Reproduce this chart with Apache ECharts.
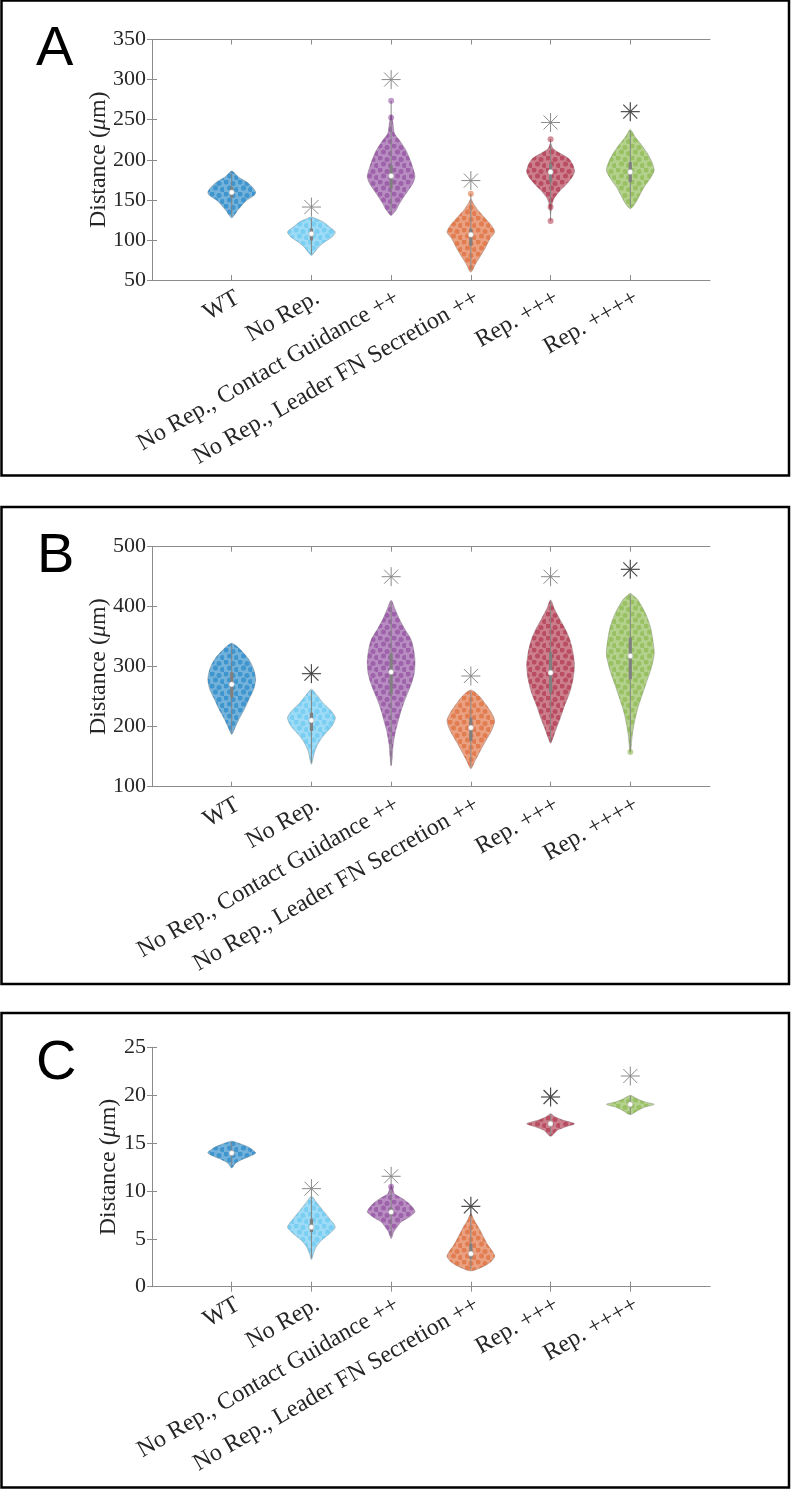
<!DOCTYPE html>
<html><head><meta charset="utf-8">
<script src="https://cdn.jsdelivr.net/npm/echarts@6/dist/echarts.min.js"></script>
<style>html,body{margin:0;padding:0;background:#fff}#c{width:791px;height:1490px}</style>
</head><body><div id="c"></div>
<script>
// ---------------- DATA ----------------
const categories = ['WT', 'No Rep.', 'No Rep., Contact Guidance ++', 'No Rep., Leader FN Secretion ++', 'Rep. +++', 'Rep. ++++'];
const positions = [1, 2, 3, 4, 5, 6];

// violin outlines: [value, relative half-width]
const violinA = [
  [[186,0],[178.6,0.28],[172.3,0.63],[166,0.86],[159.8,1],[155.6,0.94],[149.4,0.63],[143,0.42],[136.9,0.25],[127.7,0]],
  [[128.6,0],[126.5,0.2],[122.3,0.5],[116,0.76],[109.8,1],[103.6,0.86],[97.3,0.55],[91,0.3],[84.8,0.14],[80.7,0]],
  [[256,0],[245,0.08],[232.7,0.14],[224.4,0.35],[211.9,0.62],[199.4,0.8],[186.9,0.94],[178.6,1],[170.2,0.9],[157.7,0.62],[145.2,0.35],[136.9,0.2],[130.6,0]],
  [[151,0],[145.2,0.11],[136.9,0.3],[128.6,0.55],[118.1,0.86],[109.8,1],[101.5,0.8],[91,0.62],[80.7,0.42],[70.2,0.2],[61.9,0.07],[59.8,0]],
  [[221,0],[214,0.1],[207.7,0.42],[201.5,0.76],[193.1,0.94],[184.8,1],[176.5,0.86],[168.1,0.62],[159.8,0.35],[151.5,0.14],[145.2,0.07],[132.7,0]],
  [[237.7,0],[228.6,0.2],[218.1,0.48],[207.7,0.72],[197.3,0.9],[186.9,1],[176.5,0.83],[166,0.58],[155.6,0.39],[145.2,0.2],[139,0]]
];
const violinB = [
  [[339,0],[329,0.35],[312,0.72],[295.6,0.92],[279,1],[262.3,0.92],[245.6,0.72],[229,0.53],[212.3,0.3],[198.4,0.14],[187.3,0]],
  [[262.3,0],[254,0.2],[240,0.48],[226.2,0.83],[215,1],[201.2,0.86],[187.3,0.55],[173.4,0.3],[159.5,0.14],[145.6,0.06],[137.3,0]],
  [[410.6,0],[395.6,0.17],[379,0.35],[362.3,0.58],[345.6,0.83],[329,0.94],[309.5,1],[290,0.97],[273.4,0.86],[256.8,0.7],[240,0.53],[223.4,0.39],[206.8,0.28],[190,0.17],[167.9,0.08],[145.6,0.04],[134.5,0]],
  [[261.2,0],[251.2,0.35],[237.3,0.62],[223.4,0.86],[209.5,1],[192.9,0.86],[176.2,0.62],[159.5,0.39],[142.9,0.17],[130,0]],
  [[411.2,0],[395.6,0.17],[379,0.39],[362.3,0.62],[345.6,0.8],[323.4,0.94],[301.2,1],[279,0.94],[256.8,0.8],[234.5,0.58],[212.3,0.39],[192.9,0.2],[179,0.08],[172.3,0]],
  [[422.3,0],[418,0.14],[412.3,0.3],[390,0.62],[367.9,0.83],[345.6,0.94],[320.6,1],[295.6,0.86],[273.4,0.67],[251.2,0.48],[229,0.3],[206.8,0.17],[184.5,0.08],[155.6,0]]
];
const violinC = [
  [[15.2,0],[14.94,0.35],[14.59,0.7],[14.24,0.9],[13.96,1],[13.61,0.76],[13.27,0.42],[12.92,0.17],[12.4,0]],
  [[9.44,0],[8.85,0.2],[7.97,0.48],[7.1,0.76],[6.23,1],[5.54,0.76],[4.84,0.42],[4.15,0.2],[3.45,0.08],[2.82,0]],
  [[10.6,0],[10.2,0.07],[9.71,0.14],[9.19,0.48],[8.67,0.76],[8.15,0.94],[7.8,1],[7.28,0.76],[6.76,0.42],[6.23,0.25],[5.71,0.11],[5.02,0]],
  [[7.63,0],[6.93,0.14],[6.06,0.35],[5.19,0.53],[4.32,0.72],[3.62,0.92],[3.17,1],[2.58,0.83],[2.06,0.48],[1.64,0]],
  [[18.07,0],[17.72,0.2],[17.37,0.55],[17.02,1],[16.68,0.62],[16.33,0.28],[15.7,0]],
  [[19.98,0],[19.63,0.28],[19.29,0.62],[19.04,1],[18.7,0.55],[18.35,0.28],[17.96,0]]
];

// box statistics
const medianA = [159.4, 107.7, 179.8, 106.5, 184.8, 184.8];
const q1A     = [153, 99.4, 164, 93, 172, 172];
const q3A     = [166, 114, 193, 114, 195, 197];
const whiskLoA = [130, 82, 133, 62, 123.6, 141];
const whiskHiA = [184, 127, 273.6, 157.7, 225.6, 236];
const starA   = [null, 141, 300, 174, 246.5, 260];

const medianB = [270.6, 210.6, 291.2, 198.4, 290, 317.9];
const q1B     = [248.4, 193, 254, 176, 256.8, 279];
const q3B     = [291, 223.4, 322, 215, 324.5, 348.4];
const whiskLoB = [190, 140, 137, 132, 175, 158];
const whiskHiB = [337, 260, 408, 259, 410, 420];
const starB   = [null, 288.4, 450, 284.5, 450, 462.3];

const medianC = [13.96, 6.23, 7.8, 3.45, 17.02, 19.04];
const q1C     = [13.7, 5.71, 7.45, 2.93, 16.85, 18.9];
const q3C     = [14.2, 7.1, 8.2, 4.49, 17.2, 19.2];
const whiskLoC = [12.6, 3.0, 5.3, 1.8, 15.8, 18.0];
const whiskHiC = [15.1, 9.3, 10.4, 7.5, 18.0, 19.9];
const starC   = [null, 10.24, 11.53, 8.39, 19.81, 22.0];

// individual points visible outside the violins: [group position, value]
const outlierA = [[3, 273.6], [3, 252.7], [4, 157.7], [5, 225.6], [5, 141], [5, 123.6]];
const outlierB = [[6, 158]];
const outlierC = [[3, 10.45]];

const yTicksA = [50, 350, 50];
const yTicksB = [100, 500, 100];
const yTicksC = [0, 25, 5];

// ---------------- STYLE ----------------
const COLORS = [[0,114,189],[77,190,238],[126,47,142],[217,83,25],[162,20,47],[119,172,48]];
const rgba = (c, a) => `rgba(${c[0]},${c[1]},${c[2]},${a})`;
const HALF = 0.3;
const SERIF = '"Liberation Serif", "Times New Roman", serif';
const AXC = '#8c8c8c';
const TXT = '#262626';
const darkStars = [[5], [1, 5], [3, 4]];

// dotted texture (purely decorative style) imitating the jittered point cloud
function dotPattern(c) {
  const cv = document.createElement('canvas');
  cv.width = 14; cv.height = 12;
  const ctx = cv.getContext('2d');
  ctx.fillStyle = rgba(c, 0.45);
  const spots = [[2, 2], [9, 3.5], [5.5, 8], [12.5, 9.5]];
  spots.forEach(s => { ctx.beginPath(); ctx.arc(s[0], s[1], 2.5, 0, Math.PI * 2); ctx.fill(); });
  return {image: cv, repeat: 'repeat'};
}
const PATTERNS = COLORS.map(dotPattern);

const panels = [
  {violin: violinA, med: medianA, q1: q1A, q3: q3A, lo: whiskLoA, hi: whiskHiA, star: starA, out: outlierA, yt: yTicksA, top: 39.5, h: 240.5, gap: 41},
  {violin: violinB, med: medianB, q1: q1B, q3: q3B, lo: whiskLoB, hi: whiskHiB, star: starB, out: outlierB, yt: yTicksB, top: 546.7, h: 240, gap: 41},
  {violin: violinC, med: medianC, q1: q1C, q3: q3C, lo: whiskLoC, hi: whiskHiC, star: starC, out: outlierC, yt: yTicksC, top: 1047.3, h: 239.4, gap: 31}
];

const grid = [], xAxis = [], yAxis = [], series = [];
panels.forEach((p, g) => {
  grid.push({left: 152, right: 81, top: p.top, height: p.h});
  xAxis.push({
    type: 'value', gridIndex: g, min: 0, max: 7, interval: 1, position: 'bottom',
    axisLine: {lineStyle: {color: AXC, width: 1}},
    axisTick: {inside: true, length: 5, customValues: positions, lineStyle: {color: AXC}},
    axisLabel: {customValues: positions, formatter: v => categories[Math.round(v) - 1] || '', rotate: 30, margin: 6,
      verticalAlign: 'top', fontFamily: SERIF, fontSize: 24, color: TXT},
    splitLine: {show: false}
  });
  xAxis.push({
    type: 'value', gridIndex: g, min: 0, max: 7, interval: 1, position: 'top',
    axisLine: {lineStyle: {color: AXC, width: 1}},
    axisTick: {inside: true, length: 5, customValues: positions, lineStyle: {color: AXC}},
    axisLabel: {show: false}, splitLine: {show: false}
  });
  yAxis.push({
    type: 'value', gridIndex: g, min: p.yt[0], max: p.yt[1], interval: p.yt[2], position: 'left',
    axisLine: {show: true, lineStyle: {color: AXC, width: 1}},
    axisTick: {show: true, inside: true, length: 5, lineStyle: {color: AXC}},
    axisLabel: {margin: 6, fontFamily: SERIF, fontSize: 22, color: TXT},
    splitLine: {show: false},
    name: 'Distance ({i|μ}m)', nameLocation: 'middle', nameRotate: 90, nameGap: p.gap, nameMoveOverlap: false,
    nameTextStyle: {fontFamily: SERIF, fontSize: 24, color: TXT,
      rich: {i: {fontFamily: SERIF, fontSize: 24, fontStyle: 'italic', color: TXT}}}
  });
  yAxis.push({
    type: 'value', gridIndex: g, min: p.yt[0], max: p.yt[1], interval: p.yt[2], position: 'right',
    axisLine: {show: true, lineStyle: {color: AXC, width: 1}},
    axisTick: {show: true, inside: true, length: 5, lineStyle: {color: AXC}},
    axisLabel: {show: false}, splitLine: {show: false}
  });

  const vdata = positions.map((x, i) => [x, p.med[i], p.q1[i], p.q3[i], p.lo[i], p.hi[i]]);
  series.push({
    type: 'custom', xAxisIndex: 2 * g, yAxisIndex: 2 * g, data: vdata, silent: true,
    renderItem: function (params, api) {
      const i = params.dataIndex;
      const x = api.value(0);
      const prof = p.violin[i];
      const right = prof.map(q => api.coord([x + q[1] * HALF, q[0]]));
      const left = prof.filter(q => q[1] > 0).map(q => api.coord([x - q[1] * HALF, q[0]])).reverse();
      const pts = right.concat(left);
      const c = COLORS[i];
      const m = api.coord([x, api.value(1)]);
      const yq1 = api.coord([x, api.value(2)])[1], yq3 = api.coord([x, api.value(3)])[1];
      const ylo = api.coord([x, api.value(4)])[1], yhi = api.coord([x, api.value(5)])[1];
      return {type: 'group', children: [
        {type: 'polygon', shape: {points: pts, smooth: 0.25},
          style: {fill: rgba(c, 0.55), stroke: 'rgba(120,120,120,0.55)', lineWidth: 0.7}},
        {type: 'polygon', shape: {points: pts, smooth: 0.25},
          style: {fill: PATTERNS[i], stroke: null}},
        {type: 'line', shape: {x1: m[0], y1: ylo, x2: m[0], y2: yhi}, style: {stroke: '#858585', lineWidth: 1}},
        {type: 'line', shape: {x1: m[0], y1: yq1, x2: m[0], y2: yq3}, style: {stroke: '#808080', lineWidth: 3.2}},
        {type: 'circle', shape: {cx: m[0], cy: m[1], r: 2.6}, style: {fill: '#fff', stroke: '#9a9a9a', lineWidth: 0.5}}
      ]};
    }
  });

  series.push({
    type: 'scatter', xAxisIndex: 2 * g, yAxisIndex: 2 * g, silent: true, symbolSize: 6,
    data: p.out.map(d => ({value: d, itemStyle: {color: rgba(COLORS[d[0] - 1], 0.6)}}))
  });

  const sdata = positions.map((x, i) => [x, p.star[i]]).filter(d => d[1] != null);
  series.push({
    type: 'custom', xAxisIndex: 2 * g, yAxisIndex: 2 * g, data: sdata, silent: true,
    renderItem: function (params, api) {
      const x = api.value(0);
      const c = api.coord([x, api.value(1)]);
      const dark = darkStars[g].indexOf(Math.round(x) - 1) >= 0;
      const col = dark ? '#4a4a4a' : '#8a8a8a';
      const r = 9.5, d = 7;
      const st = {stroke: col, lineWidth: dark ? 1.2 : 1};
      return {type: 'group', children: [
        {type: 'line', shape: {x1: c[0] - r, y1: c[1], x2: c[0] + r, y2: c[1]}, style: st},
        {type: 'line', shape: {x1: c[0], y1: c[1] - r, x2: c[0], y2: c[1] + r}, style: st},
        {type: 'line', shape: {x1: c[0] - d, y1: c[1] - d, x2: c[0] + d, y2: c[1] + d}, style: st},
        {type: 'line', shape: {x1: c[0] - d, y1: c[1] + d, x2: c[0] + d, y2: c[1] - d}, style: st}
      ]};
    }
  });
});

const chart = echarts.init(document.getElementById('c'), null, {renderer: 'canvas'});
chart.setOption({
  animation: false,
  backgroundColor: '#fff',
  grid, xAxis, yAxis, series,
  graphic: [
    {type: 'rect', shape: {x: 1.5, y: 0.5, width: 787.5, height: 475}, style: {fill: 'none', stroke: '#000', lineWidth: 2.5}},
    {type: 'rect', shape: {x: 1.5, y: 507, width: 787.5, height: 477}, style: {fill: 'none', stroke: '#000', lineWidth: 2.5}},
    {type: 'rect', shape: {x: 1.5, y: 1013, width: 787.5, height: 474.5}, style: {fill: 'none', stroke: '#000', lineWidth: 2.5}},
    {type: 'text', x: 36, y: 50, style: {text: 'A', font: '56px "Liberation Sans", Arial, sans-serif', fill: '#000', verticalAlign: 'middle'}},
    {type: 'text', x: 37, y: 557, style: {text: 'B', font: '56px "Liberation Sans", Arial, sans-serif', fill: '#000', verticalAlign: 'middle'}},
    {type: 'text', x: 36, y: 1064, style: {text: 'C', font: '56px "Liberation Sans", Arial, sans-serif', fill: '#000', verticalAlign: 'middle'}}
  ]
});
</script>
</body></html>
